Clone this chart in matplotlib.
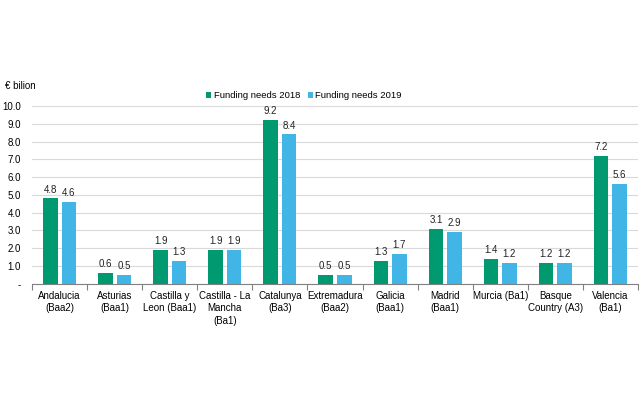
import numpy as np
import matplotlib
matplotlib.use('Agg')
import matplotlib.pyplot as plt

plt.rcParams['font.family'] = ['Liberation Sans', 'DejaVu Sans']

regions = ['Andalucia\n(Baa2)', 'Asturias\n(Baa1)', 'Castilla y\nLeon (Baa1)',
           'Castilla - La\nMancha\n(Ba1)', 'Catalunya\n(Ba3)', 'Extremadura\n(Baa2)',
           'Galicia\n(Baa1)', 'Madrid\n(Baa1)', 'Murcia (Ba1)', 'Basque\nCountry (A3)',
           'Valencia\n(Ba1)']
needs_2018 = [4.8, 0.6, 1.9, 1.9, 9.2, 0.5, 1.3, 3.1, 1.4, 1.2, 7.2]
needs_2019 = [4.6, 0.5, 1.3, 1.9, 8.4, 0.5, 1.7, 2.9, 1.2, 1.2, 5.6]
yticks = [0, 1, 2, 3, 4, 5, 6, 7, 8, 9, 10]
ytick_labels = ['-', '1.0', '2.0', '3.0', '4.0', '5.0', '6.0', '7.0', '8.0', '9.0', '10.0']

green = '#009970'
blue = '#41b6e6'
fs = 7

fig = plt.figure(figsize=(6.43, 3.97), dpi=100)
ax = fig.add_axes([0.05, 0.285, 0.942, 0.448])

x = np.arange(len(regions))
w = 0.265
gap = 0.035
b1 = ax.bar(x - w / 2 - gap, needs_2018, w, color=green, label='Funding needs 2018', zorder=3)
b2 = ax.bar(x + w / 2 + gap, needs_2019, w, color=blue, label='Funding needs 2019', zorder=3)

for bars, vals in [(b1, needs_2018), (b2, needs_2019)]:
    for rect, val in zip(bars, vals):
        ax.text(rect.get_x() + rect.get_width() / 2, val + 0.22, f'{val:.1f}',
                ha='center', va='bottom', fontsize=fs, color='#222222')

ax.set_xlim(-0.5, len(regions) - 0.5)
ax.set_ylim(0, 10)
ax.set_yticks(yticks)
ax.set_yticklabels(ytick_labels, fontsize=fs)
ax.yaxis.grid(True, color='#d9d9d9', linewidth=0.8, zorder=0)
ax.tick_params(axis='y', length=0, pad=8)

ax.set_xticks(x)
ax.set_xticklabels(regions, fontsize=fs, linespacing=1.3)
ax.tick_params(axis='x', length=0, pad=5)
ax.set_xticks(np.arange(-0.5, len(regions)), minor=True)
ax.tick_params(axis='x', which='minor', length=4, color='#808080', width=0.8)

for s in ['top', 'right', 'left']:
    ax.spines[s].set_visible(False)
ax.spines['bottom'].set_color('#808080')
ax.spines['bottom'].set_linewidth(0.8)
ax.spines['bottom'].set_zorder(4)

fig.text(0.008, 0.783, '€ bilion', fontsize=fs, va='center')
ax.legend(loc='lower center', bbox_to_anchor=(0.449, 0.985), ncol=2, frameon=False,
          fontsize=6.8, handlelength=0.5, handleheight=0.5, handletextpad=0.3,
          columnspacing=0.8)

fig.savefig('out.png', dpi=100)
